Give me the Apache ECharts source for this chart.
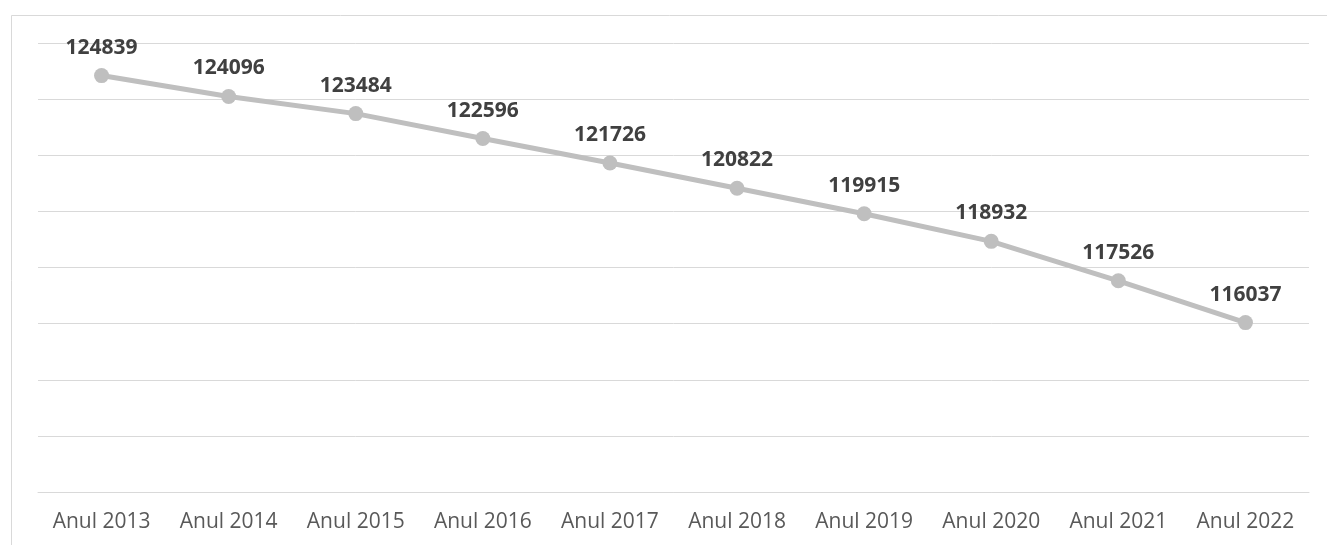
<!DOCTYPE html>
<html>
<head>
<meta charset="utf-8">
<script src="https://cdn.jsdelivr.net/npm/echarts@6/dist/echarts.min.js"></script>
<style>
html,body{margin:0;padding:0;background:#fff;}
#c{width:1327px;height:545px;}
</style>
</head>
<body>
<div id="c"></div>
<script>
const categories = ['Anul 2013','Anul 2014','Anul 2015','Anul 2016','Anul 2017','Anul 2018','Anul 2019','Anul 2020','Anul 2021','Anul 2022'];
const values = [124839,124096,123484,122596,121726,120822,119915,118932,117526,116037];
const yMin = 110000, yMax = 126000, yStep = 2000;

const chart = echarts.init(document.getElementById('c'), null, {renderer:'canvas'});
chart.setOption({
  animation:false,
  backgroundColor:'#ffffff',
  graphic:[{type:'rect', left:9, top:13, shape:{width:1340, height:560}, style:{fill:'none', stroke:'#d9d9d9', lineWidth:1}, silent:true}],
  grid:{left:38, right:18, top:43, bottom:53},
  xAxis:{
    type:'category', data:categories, boundaryGap:true,
    axisLine:{lineStyle:{color:'#d9d9d9', width:1}},
    axisTick:{show:false},
    axisLabel:{interval:0, hideOverlap:false, color:'#595959', fontFamily:'Open Sans', fontSize:21, margin:20}
  },
  yAxis:{
    type:'value', min:yMin, max:yMax, interval:yStep,
    axisLabel:{show:false}, axisLine:{show:false}, axisTick:{show:false},
    splitLine:{lineStyle:{color:'#d9d9d9', width:1}}
  },
  series:[{
    type:'line', data:values,
    symbol:'circle', symbolSize:15,
    lineStyle:{color:'#bfbfbf', width:5},
    itemStyle:{color:'#bfbfbf'},
    label:{show:true, position:'top', distance:10, color:'#404040', fontFamily:'Open Sans', fontWeight:'bold', fontSize:21}
  }]
});
</script>
</body>
</html>
